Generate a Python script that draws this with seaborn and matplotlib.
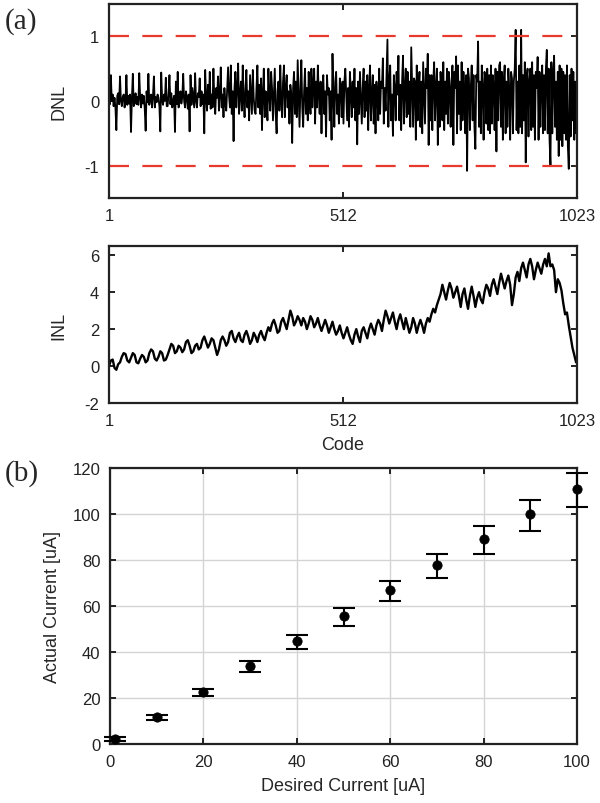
import numpy as np
import pandas as pd
import matplotlib
matplotlib.use('Agg')
import matplotlib.pyplot as plt
import seaborn as sns

# ---------------  Data  ------------
# DNL, one value every 2 codes (codes 1..1023)
dnl = [
    0.05, -0.05, 0.4, 0.0, 0.1, -0.08, 0.05, -0.1, -0.45, 0.08, 0.12, -0.05, 0.38, 0.0, -0.08, 0.06,
    0.1, -0.1, 0.02, 0.4, -0.06, 0.08, -0.04, 0.1, -0.48, 0.05, 0.42, -0.08, 0.0, 0.12, -0.05, 0.06,
    -0.06, 0.43, 0.05, -0.1, 0.1, -0.04, 0.08, -0.12, -0.46, 0.15, -0.02, 0.42, -0.06, 0.04, 0.1, -0.1,
    0.08, 0.38, -0.1, 0.06, -0.02, 0.1, 0.05, -0.08, -0.47, 0.44, 0.02, -0.06, 0.1, 0.0, 0.36, -0.08,
    -0.08, 0.12, 0.4, -0.05, 0.12, -0.1, 0.0, 0.08, -0.48, 0.3, -0.05, 0.45, -0.1, 0.06, 0.15, -0.04,
    0.06, 0.42, 0.0, -0.1, 0.15, 0.05, -0.12, 0.1, -0.47, 0.4, -0.06, 0.2, 0.05, -0.1, 0.43, 0.0,
    -0.1, 0.12, 0.06, 0.35, -0.08, 0.15, -0.05, 0.1, -0.5, 0.48, 0.05, -0.15, 0.25, -0.05, 0.45, -0.12,
    0.1, -0.1, 0.5, 0.0, -0.2, 0.2, 0.05, 0.38, -0.15, 0.1, 0.52, -0.1, 0.1, -0.25, 0.2, -0.05,
    -0.15, 0.2, 0.52, 0.1, -0.1, 0.55, -0.2, 0.15, -0.62, 0.2, 0.45, -0.1, 0.2, 0.58, -0.2, 0.1,
    0.3, -0.15, 0.55, 0.05, -0.25, 0.2, 0.48, -0.1, 0.15, -0.3, 0.4, 0.1, -0.2, 0.48, 0.05, -0.15,
    -0.2, 0.2, 0.55, -0.1, 0.25, -0.2, 0.35, -0.45, 0.1, 0.5, -0.25, 0.15, 0.05, -0.3, 0.5, 0.1,
    -0.15, 0.45, 0.2, -0.3, 0.1, 0.5, -0.2, -0.5, 0.15, 0.3, -0.15, 0.55, 0.0, -0.25, 0.3, 0.55,
    -0.25, 0.2, 0.4, -0.1, 0.15, -0.35, 0.25, 0.1, -0.65, 0.2, 0.45, -0.2, 0.3, -0.25, 0.63, 0.1,
    -0.4, 0.2, 0.63, -0.1, -0.4, 0.15, 0.5, -0.2, 0.2, -0.3, 0.45, 0.05, -0.2, 0.5, -0.1, 0.25,
    0.5, -0.35, 0.3, -0.1, 0.55, 0.1, -0.2, 0.3, -0.5, 0.2, 0.4, -0.2, 0.15, -0.55, 0.4, 0.1,
    0.2, -0.3, 0.15, -0.6, 0.73, 0.1, -0.4, 0.3, 0.45, -0.2, 0.1, -0.35, 0.35, 0.2, -0.25, 0.3,
    -0.35, 0.3, 0.5, 0.1, -0.3, 0.2, -0.4, 0.45, 0.15, -0.25, 0.3, -0.1, 0.5, -0.3, 0.2, -0.67,
    0.3, -0.2, 0.45, 0.05, -0.35, 0.2, 0.5, -0.25, 0.3, -0.15, 0.4, -0.45, 0.2, 0.55, -0.3, 0.1,
    0.4, -0.35, 0.25, -0.5, 0.3, 0.1, -0.3, 0.5, -0.2, 0.3, 0.2, 0.66, -0.35, 0.2, -0.15, 0.4,
    0.95, -0.4, 0.3, 0.55, -0.3, 0.1, -0.54, 0.4, 0.2, -0.3, 0.45, 0.1, 0.7, -0.3, 0.25, -0.45,
    0.3, 0.7, -0.35, 0.2, 0.5, -0.25, 0.45, -0.2, 0.3, -0.4, 0.83, 0.2, -0.4, 0.35, 0.3, -0.6,
    0.55, -0.3, 0.2, 0.45, -0.4, 0.3, -0.5, 0.6, 0.1, -0.35, 0.5, 0.2, 0.73, -0.68, 0.4, -0.3,
    0.4, -0.45, 0.3, 0.6, -0.3, 0.2, 0.5, -0.68, 0.3, -0.4, 0.45, 0.1, -0.3, 0.6, -0.45, 0.3,
    -0.2, 0.5, -0.35, 0.45, 0.2, -0.4, 0.3, 0.55, -0.68, 0.45, 0.2, 0.69, -0.5, 0.55, -0.2, 0.3,
    -0.45, 0.6, -0.3, 0.45, 0.1, -0.5, 0.4, -1.08, 0.5, 0.35, -0.45, 0.2, 0.55, -0.3, 0.4, -0.4,
    -0.74, 0.4, 0.3, 0.92, -0.4, 0.3, -0.5, 0.55, 0.2, -0.6, 0.45, 0.3, -0.35, 0.5, -0.45, 0.4,
    -0.5, 0.55, -0.35, 0.4, 0.2, -0.45, 0.5, -0.78, 0.45, -0.3, 0.55, 0.6, -0.4, 0.45, -0.6, 0.3,
    0.55, -0.5, 0.3, -0.4, 0.5, 0.2, -0.6, 0.45, 0.35, -0.5, 0.3, 0.5, 1.1, -0.45, 0.3, -0.5,
    0.55, -0.4, 1.1, -0.5, 0.4, -0.3, 0.6, -0.95, 0.35, 0.5, -0.55, 0.3, 0.5, -0.45, 0.6, -0.4,
    0.4, -0.6, 0.45, 0.2, 0.68, -0.6, 0.45, -0.4, 0.3, 0.55, -0.5, 0.4, -0.45, 0.5, 0.79, -0.5,
    0.5, -0.6, -0.99, 0.6, -0.5, 0.4, 0.7, -0.4, 0.3, -0.6, 0.45, -0.85, 0.55, -0.6, 0.5, -0.7,
    0.45, -0.5, 0.4, -0.6, 0.55, -0.7, -1.05, 0.4, -0.55, 0.5, -0.3, 0.45, -0.6, 0.3, -0.5, -0.3,
]

# INL, one value every 4 codes (codes 1..1021)
inl = [
    0.0, 0.3, 0.35, -0.1, -0.2, 0.1, 0.2, 0.5, 0.7, 0.65, 0.3, 0.2, 0.45, 0.7, 0.6, 0.2,
    0.15, 0.4, 0.6, 0.5, 0.2, 0.3, 0.7, 0.9, 0.8, 0.4, 0.3, 0.5, 0.8, 0.7, 0.3, 0.35,
    0.6, 0.9, 1.2, 1.1, 0.7, 0.8, 1.1, 1.0, 0.75, 0.9, 1.3, 1.4, 1.1, 0.7, 0.8, 1.1,
    1.2, 0.9, 1.0, 1.4, 1.6, 1.3, 1.0, 1.2, 1.5, 1.4, 1.0, 0.6, 0.9, 1.4, 1.6, 1.4,
    1.1, 1.3, 1.8, 1.9, 1.5, 1.3, 1.6, 1.8, 1.4, 1.3, 1.7, 1.9, 1.6, 1.2, 1.4, 1.8,
    1.6, 1.3, 1.7, 1.9, 1.6, 1.4, 1.8, 2.1, 1.9, 2.3, 2.5, 2.2, 1.8, 1.9, 2.4, 2.6,
    2.3, 2.0, 2.5, 3.0, 2.7, 2.2, 2.4, 2.7, 2.5, 2.2, 2.6, 2.4, 2.0, 2.3, 2.7, 2.5,
    2.1, 2.3, 2.6, 2.2, 1.9, 2.2, 2.5, 2.2, 1.8, 2.1, 2.4, 2.0, 1.7, 1.9, 2.2, 1.8,
    1.5, 1.8, 2.1, 1.7, 1.4, 1.2, 1.7, 2.0, 1.6, 1.3, 1.9, 2.1, 1.8, 1.5, 2.0, 2.3,
    2.0, 1.7, 2.2, 2.5, 2.3, 1.9, 2.5, 3.0, 2.7, 2.3, 2.6, 2.9, 2.4, 2.0, 2.5, 2.8,
    2.4, 2.0, 2.6, 2.2, 1.8, 2.1, 2.6, 2.3, 1.8, 2.2, 2.5, 2.2, 1.8, 2.3, 2.6, 2.4,
    2.8, 3.1, 2.9, 3.3, 3.6, 3.9, 4.4, 4.0, 3.6, 4.1, 4.5, 4.2, 3.7, 4.0, 4.3, 3.8,
    3.2, 3.9, 4.2, 3.6, 3.1, 3.8, 4.3, 3.8, 3.2, 3.7, 4.0, 3.6, 3.4, 4.0, 4.4, 4.2,
    3.8, 4.4, 4.7, 4.3, 3.9, 4.5, 5.0, 4.6, 4.2, 4.6, 4.9, 4.4, 3.3, 3.9, 4.8, 5.1,
    4.6, 5.3, 5.6, 5.2, 4.8, 5.5, 5.8, 5.4, 4.7, 5.2, 5.6, 5.3, 5.0, 5.5, 5.8, 5.4,
    6.1, 5.4, 5.5, 5.2, 4.0, 4.7, 4.5, 4.1, 3.4, 2.8, 2.9, 2.2, 1.6, 1.0, 0.6, 0.2,
]

code_ticks = [1, 512, 1023]

desired = [1, 10, 20, 30, 40, 50, 60, 70, 80, 90, 100]
actual = [2.2, 11.9, 22.8, 34.0, 44.7, 55.6, 66.8, 77.8, 89.0, 99.9, 111.0]
err_low = [1.2, 10.4, 20.8, 31.2, 41.4, 51.5, 62.0, 72.1, 82.6, 92.7, 103.2]
err_high = [2.9, 12.6, 24.1, 36.0, 47.6, 59.1, 70.8, 82.7, 94.6, 106.2, 118.0]

# ---------------  Style  ------------
sns.set_style('white')
plt.rcParams['font.family'] = ['Liberation Sans', 'DejaVu Sans']
plt.rcParams['axes.linewidth'] = 1.6
plt.rcParams['axes.edgecolor'] = '#222222'
plt.rcParams['axes.unicode_minus'] = False

dnl_df = pd.DataFrame({'code': np.linspace(1, 1023, len(dnl)), 'DNL': dnl})
inl_df = pd.DataFrame({'code': np.linspace(1, 1021, len(inl)), 'INL': inl})
cur_df = pd.DataFrame({'desired': desired, 'actual': actual})

fig = plt.figure(figsize=(6, 8.04), dpi=100)
ax1 = fig.add_axes([0.1817, 0.7525, 0.78, 0.2413])
ax2 = fig.add_axes([0.1817, 0.4975, 0.78, 0.1953])
ax3 = fig.add_axes([0.1833, 0.0734, 0.7784, 0.3433])


def box_ticks(ax):
    ax.tick_params(direction='in', length=4, width=1.4, top=True, right=True,
                   bottom=True, left=True, labelsize=12, colors='#222222',
                   labelcolor='#222222', pad=7)


# ---------  DNL  ---------
sns.lineplot(data=dnl_df, x='code', y='DNL', ax=ax1, color='black', lw=1.3,
             estimator=None, sort=False)
for lvl in [1, -1]:
    ax1.axhline(lvl, color='#e8392e', lw=1.6, dashes=(9, 6))
ax1.set_xlim(1, 1023)
ax1.set_ylim(-1.5, 1.5)
ax1.set_xticks(code_ticks)
ax1.set_yticks([-1, 0, 1])
ax1.set_xlabel('')
ax1.set_ylabel('DNL', fontsize=13, labelpad=12)
box_ticks(ax1)

# ---------  INL  ---------
sns.lineplot(data=inl_df, x='code', y='INL', ax=ax2, color='black', lw=1.7,
             estimator=None, sort=False)
ax2.set_xlim(1, 1023)
ax2.set_ylim(-2, 6.5)
ax2.set_xticks(code_ticks)
ax2.set_yticks([-2, 0, 2, 4, 6])
ax2.set_xlabel('Code', fontsize=13, labelpad=6)
ax2.set_ylabel('INL', fontsize=13, labelpad=12)
box_ticks(ax2)

# ---------  Current  ---------
ax3.grid(True, color='#d4d4d4', lw=1.0)
ax3.set_axisbelow(True)
ax3.errorbar(desired, actual,
             yerr=[np.array(actual) - np.array(err_low), np.array(err_high) - np.array(actual)],
             fmt='none', ecolor='black', elinewidth=1.5, capsize=8, capthick=1.5,
             clip_on=False, zorder=3)
sns.scatterplot(data=cur_df, x='desired', y='actual', ax=ax3, color='black',
                s=45, edgecolor='black', zorder=4, clip_on=False)
ax3.set_xlim(0, 100)
ax3.set_ylim(0, 120)
ax3.set_xticks(range(0, 101, 20))
ax3.set_yticks(range(0, 121, 20))
ax3.set_xlabel('Desired Current [uA]', fontsize=13, labelpad=6)
ax3.set_ylabel('Actual Current [uA]', fontsize=13, labelpad=8)
box_ticks(ax3)

for ax in (ax1, ax2, ax3):
    for s in ax.spines.values():
        s.set_visible(True)

serif = ['Liberation Serif', 'DejaVu Serif']
fig.text(0.008, 1 - 22 / 804, '(a)', fontsize=21, family=serif, va='center')
fig.text(0.008, 1 - 474 / 804, '(b)', fontsize=21, family=serif, va='center')

plt.savefig('out.png', dpi=100)
